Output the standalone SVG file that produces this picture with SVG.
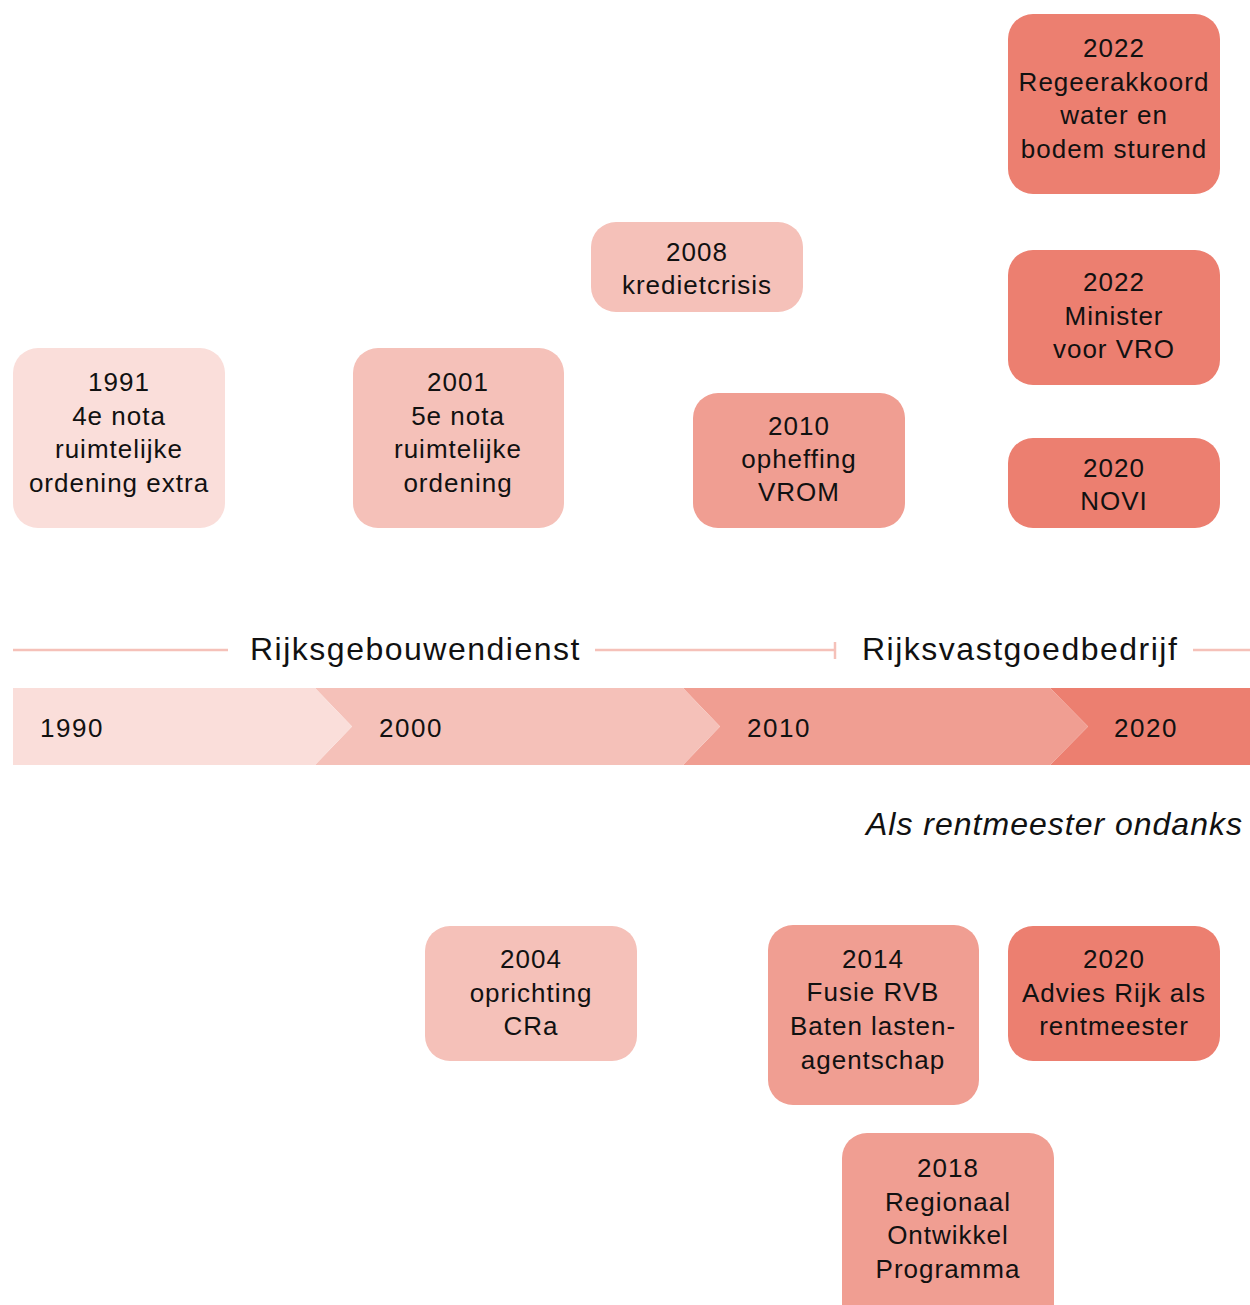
<svg xmlns="http://www.w3.org/2000/svg" width="1250" height="1305" viewBox="0 0 1250 1305">
<style>
.t{font-family:"Liberation Sans","Noto Sans",sans-serif;font-size:26px;fill:#111;text-anchor:middle;letter-spacing:1px}
.y{font-family:"Liberation Sans","Noto Sans",sans-serif;font-size:26px;fill:#111;letter-spacing:1.5px}
.h{font-family:"Liberation Sans","Noto Sans",sans-serif;font-size:32px;fill:#111;letter-spacing:1.5px}
.c1{fill:#FADEDA}.c2{fill:#F5C1B9}.c3{fill:#F09E92}.c4{fill:#EC7F70}
.ln{stroke:#F5C1B9;stroke-width:2.5;fill:none}
</style>
<g id="band">
<polygon class="c4" points="1050,688 1250,688 1250,765 1050,765 1088,726.5"/>
<polygon class="c3" points="683,688 1050,688 1088,726.5 1050,765 683,765 720,726.5"/>
<polygon class="c2" points="315,688 683,688 720,726.5 683,765 315,765 352,726.5"/>
<polygon class="c1" points="13,688 315,688 352,726.5 315,765 13,765"/>
<text class="y" x="40" y="737">1990</text>
<text class="y" x="379" y="737">2000</text>
<text class="y" x="747" y="737">2010</text>
<text class="y" x="1114" y="737">2020</text>
</g>
<g id="periods">
<line class="ln" x1="13" y1="650" x2="228" y2="650"/>
<text class="h" x="250" y="660">Rijksgebouwendienst</text>
<line class="ln" x1="595" y1="650" x2="835" y2="650"/>
<line class="ln" x1="835" y1="642" x2="835" y2="659"/>
<text class="h" x="862" y="660">Rijksvastgoedbedrijf</text>
<line class="ln" x1="1193" y1="650" x2="1250" y2="650"/>
</g>
<text class="h" x="866" y="835" font-style="italic" style="letter-spacing:1px">Als rentmeester ondanks</text>
<g id="n1991"><rect class="c1" x="13" y="348" width="212" height="180" rx="25"/>
<text class="t" x="119" y="391">1991</text><text class="t" x="119" y="425">4e nota</text><text class="t" x="119" y="458">ruimtelijke</text><text class="t" x="119" y="492">ordening extra</text></g>
<g id="n2001"><rect class="c2" x="353" y="348" width="211" height="180" rx="25"/>
<text class="t" x="458" y="391">2001</text><text class="t" x="458" y="425">5e nota</text><text class="t" x="458" y="458">ruimtelijke</text><text class="t" x="458" y="492">ordening</text></g>
<g id="n2008"><rect class="c2" x="591" y="222" width="212" height="90" rx="25"/>
<text class="t" x="697" y="261">2008</text><text class="t" x="697" y="294">kredietcrisis</text></g>
<g id="n2010"><rect class="c3" x="693" y="393" width="212" height="135" rx="25"/>
<text class="t" x="799" y="435">2010</text><text class="t" x="799" y="468">opheffing</text><text class="t" x="799" y="501">VROM</text></g>
<g id="n2022a"><rect class="c4" x="1008" y="14" width="212" height="180" rx="25"/>
<text class="t" x="1114" y="57">2022</text><text class="t" x="1114" y="91">Regeerakkoord</text><text class="t" x="1114" y="124">water en</text><text class="t" x="1114" y="158">bodem sturend</text></g>
<g id="n2022b"><rect class="c4" x="1008" y="250" width="212" height="135" rx="25"/>
<text class="t" x="1114" y="291">2022</text><text class="t" x="1114" y="325">Minister</text><text class="t" x="1114" y="358">voor VRO</text></g>
<g id="n2020a"><rect class="c4" x="1008" y="438" width="212" height="90" rx="25"/>
<text class="t" x="1114" y="477">2020</text><text class="t" x="1114" y="510">NOVI</text></g>
<g id="n2004"><rect class="c2" x="425" y="926" width="212" height="135" rx="25"/>
<text class="t" x="531" y="968">2004</text><text class="t" x="531" y="1002">oprichting</text><text class="t" x="531" y="1035">CRa</text></g>
<g id="n2014"><rect class="c3" x="768" y="925" width="211" height="180" rx="25"/>
<text class="t" x="873" y="968">2014</text><text class="t" x="873" y="1001">Fusie RVB</text><text class="t" x="873" y="1035">Baten lasten-</text><text class="t" x="873" y="1069">agentschap</text></g>
<g id="n2020b"><rect class="c4" x="1008" y="926" width="212" height="135" rx="25"/>
<text class="t" x="1114" y="968">2020</text><text class="t" x="1114" y="1002">Advies Rijk als</text><text class="t" x="1114" y="1035">rentmeester</text></g>
<g id="n2018"><rect class="c3" x="842" y="1133" width="212" height="200" rx="25"/>
<text class="t" x="948" y="1177">2018</text><text class="t" x="948" y="1211">Regionaal</text><text class="t" x="948" y="1244">Ontwikkel</text><text class="t" x="948" y="1278">Programma</text></g>
<g id="connectors"/>
</svg>
